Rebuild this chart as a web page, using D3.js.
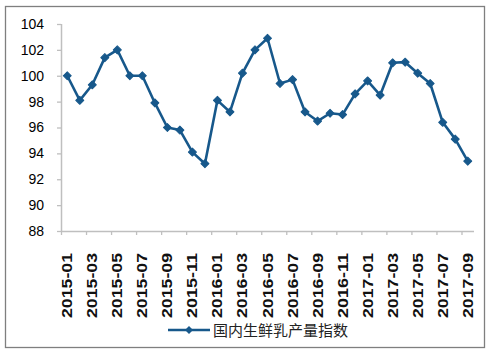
<!DOCTYPE html>
<html>
<head>
<meta charset="utf-8">
<script src="https://cdn.jsdelivr.net/npm/d3@7"></script>
<style>
  body { margin: 0; background: #fff; }
  svg { display: block; }
</style>
</head>
<body>
<div id="chart"></div>
<script>
// monthly data, 2015-01 .. 2017-09
var months = ["2015-01","2015-02","2015-03","2015-04","2015-05","2015-06","2015-07","2015-08","2015-09","2015-10","2015-11","2015-12",
              "2016-01","2016-02","2016-03","2016-04","2016-05","2016-06","2016-07","2016-08","2016-09","2016-10","2016-11","2016-12",
              "2017-01","2017-02","2017-03","2017-04","2017-05","2017-06","2017-07","2017-08","2017-09"];
var values = [100.0, 98.1, 99.3, 101.4, 102.0, 100.0, 100.0, 97.9, 96.0, 95.8, 94.1, 93.2,
              98.1, 97.2, 100.2, 102.0, 102.9, 99.4, 99.7, 97.2, 96.5, 97.1, 97.0, 98.6,
              99.6, 98.5, 101.0, 101.05, 100.2, 99.4, 96.4, 95.1, 93.4];
var yTicks = [88, 90, 92, 94, 96, 98, 100, 102, 104];
var seriesName = "国内生鲜乳产量指数";

var W = 494, H = 352;
var margin = {top: 24, right: 20, bottom: 121, left: 61},
    width = 474 - margin.left,
    height = 231 - margin.top;

var color = "#17588b";

var root = d3.select("#chart")
  .append("svg")
    .attr("width", W)
    .attr("height", H);

root.append("rect")
  .attr("x", 5.5).attr("y", 6.5)
  .attr("width", 479).attr("height", 341)
  .attr("fill", "none")
  .attr("stroke", "#7f7f7f")
  .attr("stroke-width", 1.3);

var svg = root.append("g")
  .attr("transform", "translate(" + margin.left + "," + margin.top + ")");

var x = d3.scaleBand()
  .domain(months)
  .range([0, width])
  .padding(0);

var y = d3.scaleLinear()
  .domain([88, 104])
  .range([height, 0]);

// y axis
var yAxis = svg.append("g")
  .attr("class", "yaxis")
  .call(d3.axisLeft(y).tickValues(yTicks).tickSize(4).tickPadding(13).tickFormat(d3.format("d")));
yAxis.select(".domain").attr("stroke", "#bfbfbf").attr("stroke-width", 1.5).attr("d", "M0.5," + height + "V0");
yAxis.selectAll(".tick line").attr("stroke", "#bfbfbf").attr("stroke-width", 1.3);
yAxis.selectAll(".tick text")
  .attr("font-family", "Liberation Sans, Arial, sans-serif")
  .attr("font-size", 14)
  .attr("fill", "#000");

// x axis: ticks at category boundaries every 2 months
var xAxis = svg.append("g")
  .attr("transform", "translate(0," + height + ")");
xAxis.append("line")
  .attr("x1", 0).attr("x2", width)
  .attr("y1", 0.5).attr("y2", 0.5)
  .attr("stroke", "#bfbfbf").attr("stroke-width", 1.5);

var labelled = months.filter(function(d, i) { return i % 2 === 0; });

xAxis.selectAll(".xtick")
  .data(labelled)
  .enter().append("line")
    .attr("class", "xtick")
    .attr("x1", function(d) { return x(d) + 0.5; })
    .attr("x2", function(d) { return x(d) + 0.5; })
    .attr("y1", 0).attr("y2", 4)
    .attr("stroke", "#bfbfbf").attr("stroke-width", 1.3);

xAxis.selectAll(".xlabel")
  .data(labelled)
  .enter().append("text")
    .attr("class", "xlabel")
    .attr("transform", function(d) {
      return "translate(" + (x(d) + x.bandwidth() / 2 + 5) + ",22) rotate(-90)";
    })
    .attr("text-anchor", "end")
    .attr("font-family", "Liberation Sans, Arial, sans-serif")
    .attr("font-weight", "bold")
    .attr("font-size", 14.5)
    .attr("textLength", 65)
    .attr("lengthAdjust", "spacingAndGlyphs")
    .attr("fill", "#111")
    .text(function(d) { return d; });

// line
var line = d3.line()
  .x(function(d, i) { return x(months[i]) + x.bandwidth() / 2; })
  .y(function(d) { return y(d); });

svg.append("path")
  .datum(values)
  .attr("fill", "none")
  .attr("stroke", color)
  .attr("stroke-width", 2.6)
  .attr("stroke-linejoin", "round")
  .attr("d", line);

// square turned 45 degrees -> even diamond
var diamond = d3.symbol().type(d3.symbolSquare).size(32);

svg.selectAll(".pt")
  .data(values)
  .enter().append("path")
    .attr("class", "pt")
    .attr("transform", function(d, i) {
      return "translate(" + (x(months[i]) + x.bandwidth() / 2) + "," + y(d) + ") rotate(45)";
    })
    .attr("d", diamond)
    .attr("fill", color)
    .attr("stroke", color)
    .attr("stroke-width", 1)
    .attr("stroke-linejoin", "round");

// legend
var lg = root.append("g").attr("transform", "translate(168,330)");
lg.append("line")
  .attr("x1", 0).attr("x2", 42)
  .attr("y1", 0).attr("y2", 0)
  .attr("stroke", color).attr("stroke-width", 2.6);
lg.append("path")
  .attr("transform", "translate(21,0) rotate(45)")
  .attr("d", diamond)
  .attr("fill", color);
lg.append("text")
  .attr("x", 45).attr("y", 5.5)
  .attr("font-family", "Noto Sans CJK SC, sans-serif")
  .attr("font-size", 15)
  .attr("fill", "#222")
  .text(seriesName);
</script>
</body>
</html>
